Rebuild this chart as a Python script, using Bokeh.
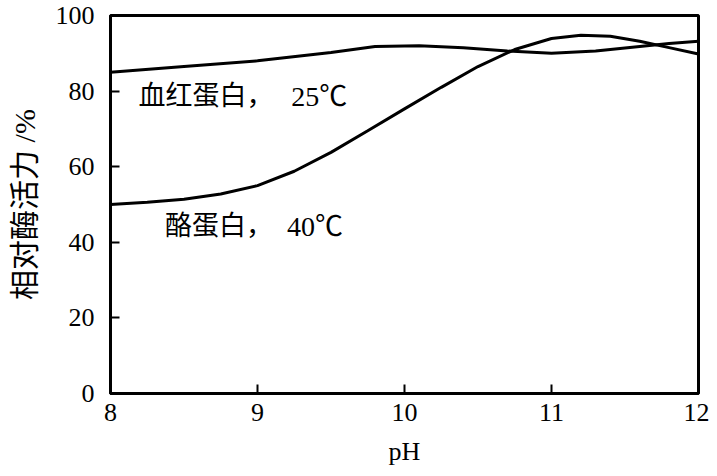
from bokeh.plotting import figure
from bokeh.models import Range1d, FixedTicker
from bokeh.core.properties import value
from bokeh.embed import file_html
from bokeh.resources import INLINE

SERIF = "Liberation Serif, Noto Sans CJK SC"
MIXED = "Liberation Serif, Noto Sans CJK SC"

# Casein, 40 C
casein_ph = [8.0, 8.25, 8.5, 8.75, 9.0, 9.25, 9.5, 9.75, 10.0, 10.25, 10.5, 10.75, 11.0, 11.2, 11.4, 11.6, 11.8, 12.0]
casein_act = [50.0, 50.6, 51.4, 52.8, 55.0, 58.8, 63.8, 69.5, 75.3, 81.0, 86.5, 91.0, 93.9, 94.8, 94.5, 93.2, 91.5, 89.8]

# Hemoglobin, 25 C
hb_ph = [8.0, 8.5, 9.0, 9.5, 9.8, 10.1, 10.4, 10.7, 11.0, 11.3, 11.6, 11.8, 12.0]
hb_act = [85.0, 86.5, 88.0, 90.2, 91.8, 92.0, 91.5, 90.6, 90.0, 90.6, 91.8, 92.6, 93.2]

x_ticks = [8, 9, 10, 11, 12]
y_ticks = [0, 20, 40, 60, 80, 100]

# curve labels: Chinese part and temperature part
label_cn = ["血红蛋白，", "酪蛋白，"]
label_cn_x = [8.19, 8.37]
label_temp = ["25℃", "40℃"]
label_temp_x = [9.23, 9.20]
label_y = [78.6, 44.2]

p = figure(width=709, height=468, output_backend="svg", toolbar_location=None,
           x_range=Range1d(8, 12), y_range=Range1d(0, 100),
           min_border_left=110, min_border_right=11, min_border_top=15, min_border_bottom=75)
p.background_fill_color = "white"
p.border_fill_color = "white"
p.outline_line_color = "black"
p.outline_line_width = 3
p.grid.visible = False

for ax in (p.xaxis[0], p.yaxis[0]):
    ax.axis_line_width = 3
    ax.axis_line_color = "black"
    ax.major_tick_in = 9
    ax.major_tick_out = 0
    ax.major_tick_line_width = 2
    ax.minor_tick_line_color = None
    ax.major_label_text_font = SERIF
    ax.major_label_text_font_size = "26px"
    ax.major_label_text_color = "black"
    ax.axis_label_text_font = MIXED
    ax.axis_label_text_font_style = "normal"
    ax.axis_label_text_color = "black"

p.xaxis.axis_label_text_font_size = "26px"
p.yaxis.axis_label_text_font_size = "30px"
p.xaxis.ticker = FixedTicker(ticks=x_ticks)
p.yaxis.ticker = FixedTicker(ticks=y_ticks)
p.xaxis.axis_label = "pH"
p.yaxis.axis_label = "相对酶活力 /%"
p.xaxis.major_label_standoff = 10
p.xaxis.axis_label_standoff = 13
p.yaxis.major_label_standoff = 16
p.yaxis.axis_label_standoff = 12

p.line(hb_ph, hb_act, line_color="black", line_width=3)
p.line(casein_ph, casein_act, line_color="black", line_width=3)

p.text(x=label_cn_x, y=label_y, text=label_cn, text_font=value(MIXED), text_font_size="27px",
       text_color="black", text_baseline="middle", text_align="left")
p.text(x=label_temp_x, y=label_y, text=label_temp, text_font=value(MIXED), text_font_size="28px",
       text_color="black", text_baseline="middle", text_align="left")

open("out.html", "w").write(file_html(p, INLINE))
